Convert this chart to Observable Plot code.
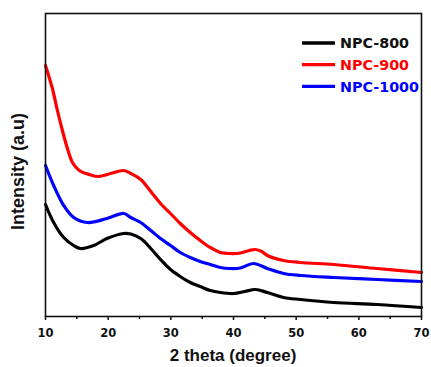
<!DOCTYPE html>
<html>
<head>
<meta charset="utf-8">
<script src="https://cdn.jsdelivr.net/npm/d3@7"></script>
<script src="https://cdn.jsdelivr.net/npm/@observablehq/plot@0.6"></script>
<style>
  html, body { margin: 0; padding: 0; background: #fff; }
  #chart { width: 431px; height: 367px; }
</style>
</head>
<body>
<div id="chart"></div>
<script>
// ---- Data (intensity in arbitrary units) ----
const xTicks = [10, 20, 30, 40, 50, 60, 70];
const xMinorTicks = [15, 25, 35, 45, 55, 65];
const seriesNames = ["NPC-800", "NPC-900", "NPC-1000"];
const seriesColors = ["#000000", "#ff0000", "#0000ff"];
const xTitle = "2 theta (degree)";
const yTitle = "Intensity (a.u)";

const x800 = [10, 11.3, 12.9, 14.5, 15.6, 17.7, 19.8, 22.5, 23.6, 25.2, 26.8, 28.35, 29.95, 31.5, 33.1, 34.7, 36.3, 37.9, 40, 41.8, 43.5, 45.4, 48, 50.7, 56, 62.9, 70];
const y800 = [112, 94, 79, 71, 68, 71, 78, 83, 82.5, 78, 68, 57, 47, 40, 34, 30, 26, 24, 23, 25, 27, 24, 19, 17, 14, 12, 9];

const x900 = [10, 11.1, 11.9, 12.7, 13.5, 14.3, 15.4, 17, 18.5, 20.4, 22.5, 23.6, 25.2, 26.8, 28.35, 29.95, 31.5, 33.1, 34.7, 36.3, 37.9, 39.5, 41.1, 42.5, 43.5, 44.5, 45.4, 48, 50.7, 56, 62.9, 70];
const y900 = [251, 228, 206, 186, 168, 154, 146, 142, 140, 143, 146, 143, 137, 125, 113, 103, 93, 84, 76, 69, 64, 63, 63.5, 66, 67, 65, 61, 56, 54, 52, 48, 44];

const x1000 = [10, 11.3, 12.9, 14.5, 16.7, 19.8, 22.5, 23.6, 25.2, 26.8, 28.35, 29.95, 31.5, 33.1, 34.7, 36.3, 37.9, 39.5, 41.1, 43.2, 45.4, 48, 50.7, 56, 62.9, 70];
const y1000 = [151, 131, 111, 99, 94, 98, 103, 99, 94, 86, 78, 71, 64, 59, 55, 52, 49, 48, 48.5, 53, 48, 43, 41, 39, 37, 35];

const table = (xs, ys, name) => xs.map((x, i) => ({x, y: ys[i], name}));
const d800 = table(x800, y800, seriesNames[0]);
const d900 = table(x900, y900, seriesNames[1]);
const d1000 = table(x1000, y1000, seriesNames[2]);

const W = 431, H = 367;
const mL = 45, mR = 10, mT = 13, mB = 51;

const lineOpts = (i) => ({x: "x", y: "y", stroke: seriesColors[i], strokeWidth: 3.2, curve: "catmull-rom"});

const svg = Plot.plot({
  width: W, height: H,
  marginLeft: mL, marginRight: mR, marginTop: mT, marginBottom: mB,
  style: {fontFamily: "DejaVu Sans", fontSize: "11px", fontWeight: "bold", color: "#111", background: "#fff"},
  x: {domain: [10, 70], label: null},
  y: {domain: [0, 303], axis: null},
  marks: [
    Plot.line(d800, lineOpts(0)),
    Plot.line(d1000, lineOpts(2)),
    Plot.line(d900, lineOpts(1)),
    Plot.frame({stroke: "#111", strokeWidth: 1.6}),
    Plot.axisX({ticks: xTicks, tickSize: 4, tickPadding: 8, label: null, fontWeight: "bold", fontSize: 11.5, stroke: "#111", strokeWidth: 1.5}),
    Plot.axisX({ticks: xMinorTicks, tickSize: 3, text: null, label: null, stroke: "#111", strokeWidth: 1.5})
  ]
});

document.getElementById("chart").appendChild(svg);

// Titles and legend
const s = d3.select(svg);
const plotRight = W - mR, plotBottom = H - mB;
s.append("text")
  .attr("x", (mL + plotRight) / 2).attr("y", 361)
  .attr("text-anchor", "middle")
  .style("font-family", "'Liberation Sans', Arial, sans-serif")
  .style("font-weight", "bold").style("font-size", "17px").attr("fill", "#111")
  .text(xTitle);
s.append("text")
  .attr("transform", `translate(24, ${(mT + plotBottom) / 2 + 7}) rotate(-90)`)
  .attr("text-anchor", "middle")
  .style("font-family", "'Liberation Sans', Arial, sans-serif")
  .style("font-weight", "bold").style("font-size", "18px").attr("fill", "#111")
  .text(yTitle);

const leg = s.append("g").attr("transform", `translate(${plotRight - 119}, ${mT + 30})`);
seriesNames.forEach((name, i) => {
  const g = leg.append("g").attr("transform", `translate(0, ${i * 21.7})`);
  g.append("line").attr("x1", 0).attr("x2", 33).attr("y1", 0).attr("y2", 0)
    .attr("stroke", seriesColors[i]).attr("stroke-width", 3.3);
  g.append("text").attr("x", 38).attr("y", 5.3)
    .attr("text-anchor", "start")
    .style("text-anchor", "start")
    .style("font-family", "'DejaVu Sans', sans-serif")
    .style("font-weight", "bold").style("font-size", "14.3px")
    .attr("fill", seriesColors[i] === "#000000" ? "#111" : seriesColors[i])
    .text(name);
});
</script>
</body>
</html>
